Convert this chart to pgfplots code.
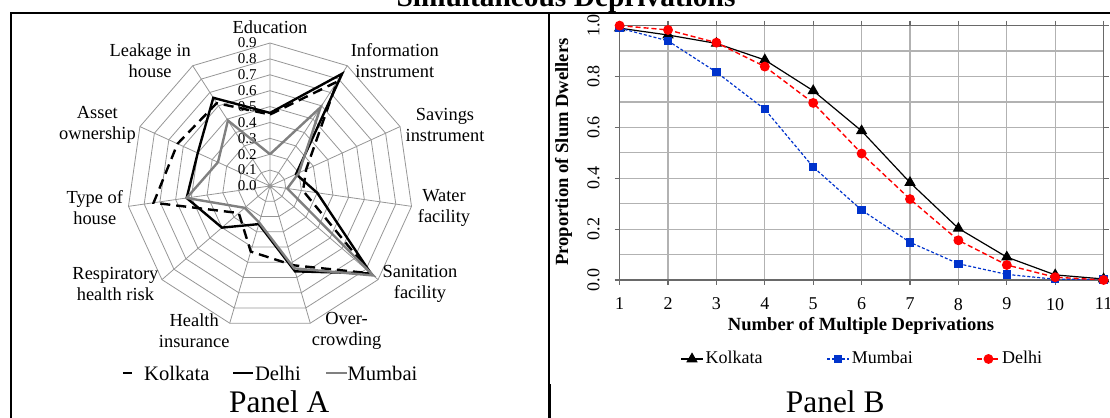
\documentclass[border=0pt]{standalone}
\usepackage{pgfplots}
\pgfplotsset{compat=1.18}
\usepgfplotslibrary{polar}
\usepackage{fontspec}
\setmainfont{Liberation Serif}
\definecolor{mblue}{RGB}{0,51,204}
\definecolor{gridgray}{RGB}{178,178,178}
\definecolor{framegray}{RGB}{105,105,105}
\definecolor{radgray}{RGB}{150,150,150}
\definecolor{mumgray}{RGB}{128,128,128}
\newcommand\fsA{\fontsize{9.2}{10.5}\selectfont}
\newcommand\fsTick{\fontsize{7.5}{8}\selectfont}
\newcommand\fsLegA{\fontsize{10.3}{12}\selectfont}
\newcommand\fsB{\fontsize{9}{10.5}\selectfont}
\newcommand\fsPanel{\fontsize{15.7}{18}\selectfont}
\begin{document}
\begin{tikzpicture}
% frame lines
\draw[black, line width=1pt] (5.5pt,0pt) -- (5.5pt,202.5pt) -- (555pt,202.5pt);
\draw[black, line width=0.6pt] (274.5pt,0pt) -- (274.5pt,202.5pt);
\draw[black, line width=1.2pt] (274.9pt,0pt) -- (274.9pt,17pt);
\node[anchor=base, font=\bfseries\fontsize{14.7}{16}\selectfont, inner sep=0pt] at (283pt,205.5pt) {Simultaneous Deprivations};

% ---------------- Panel A : radar ----------------
\begin{polaraxis}[
  at={(135pt,116pt)}, anchor=center,
  width=143pt, height=143pt, scale only axis,
  xmin=0, xmax=360, ymin=0, ymax=0.9,
  xtick={90,57.273,24.545,351.818,319.091,286.364,253.636,220.909,188.182,155.455,122.727},
  xticklabels={},
  ytick=\empty,
  xmajorgrids, ymajorgrids=false,
  major grid style={radgray, line width=0.4pt},
  axis line style={draw=none},
  major tick length=0pt,
  clip=false,
]
\pgfplotsinvokeforeach{0.1,0.2,0.3,0.4,0.5,0.6,0.7,0.8,0.9}{
\addplot[radgray, line width=0.4pt, no markers] coordinates {(90,#1) (57.273,#1) (24.545,#1) (351.818,#1) (319.091,#1) (286.364,#1) (253.636,#1) (220.909,#1) (188.182,#1) (155.455,#1) (122.727,#1) (90,#1)};
}
\pgfplotsinvokeforeach{0.0,0.1,0.2,0.3,0.4,0.5,0.6,0.7,0.8,0.9}{
\node[anchor=east, inner sep=0pt, font=\fsTick, xshift=-6.5pt] at (axis cs:90,#1) {#1};
}
% Kolkata
\addplot[black, line width=1.2pt, dash pattern=on 5pt off 3pt, no markers] coordinates {
(90,0.45) (57.273,0.78) (24.545,0.25) (351.818,0.21) (319.091,0.84) (286.364,0.52) (253.636,0.43) (220.909,0.26) (188.182,0.74) (155.455,0.64) (122.727,0.62) (90,0.45)};
% Delhi
\addplot[black, line width=1.2pt, no markers] coordinates {
(90,0.46) (57.273,0.84) (24.545,0.18) (351.818,0.30) (319.091,0.84) (286.364,0.56) (253.636,0.25) (220.909,0.40) (188.182,0.53) (155.455,0.50) (122.727,0.66) (90,0.46)};
% Mumbai
\addplot[mumgray, line width=1.2pt, no markers] coordinates {
(90,0.20) (57.273,0.59) (24.545,0.20) (351.818,0.11) (319.091,0.86) (286.364,0.54) (253.636,0.24) (220.909,0.21) (188.182,0.53) (155.455,0.36) (122.727,0.49) (90,0.20)};
\end{polaraxis}

% category labels
\begin{scope}[every node/.style={font=\fsA, align=center, inner sep=0pt}]
\node at (135pt,195.5pt) {Education};
\node at (197.4pt,178.75pt) {Information\\instrument};
\node at (222.5pt,146.5pt) {Savings\\instrument};
\node at (222pt,105.25pt) {Water\\facility};
\node at (210pt,67pt) {Sanitation\\facility};
\node at (173.3pt,43.75pt) {Over-\\crowding};
\node at (97.1pt,43.75pt) {Health\\insurance};
\node at (57.7pt,67pt) {Respiratory\\health risk};
\node at (47.4pt,105.25pt) {Type of\\house};
\node at (48.7pt,146.5pt) {Asset\\ownership};
\node at (75.1pt,178.75pt) {Leakage in\\house};
\end{scope}

% legend A
\draw[black, line width=1.2pt] (61.4pt,22.5pt) -- (65.8pt,22.5pt);
\node[anchor=west, inner sep=0pt, font=\fsLegA] at (71.9pt,22.5pt) {Kolkata};
\draw[black, line width=1.2pt] (116.5pt,22.5pt) -- (126.5pt,22.5pt);
\node[anchor=west, inner sep=0pt, font=\fsLegA] at (127.3pt,22.5pt) {Delhi};
\draw[mumgray, line width=1.2pt] (163pt,22.5pt) -- (173.3pt,22.5pt);
\node[anchor=west, inner sep=0pt, font=\fsLegA] at (173.6pt,22.5pt) {Mumbai};
\node[anchor=base, font=\fsPanel, inner sep=0pt] at (139.6pt,2.5pt) {Panel A};

% ---------------- Panel B ----------------
\begin{axis}[
  at={(309.8pt,69pt)}, anchor=south west,
  width=242pt, height=127.2pt, scale only axis,
  xmin=1, xmax=11, ymin=0, ymax=1,
  xtick={1,2,3,4,5,6,7,8,9,10,11},
  ytick={0,0.2,0.4,0.6,0.8,1.0},
  minor ytick={0.1,0.3,0.5,0.7,0.9},
  /pgf/number format/assume math mode=true,
  yticklabel style={/pgf/number format/.cd, fixed, fixed zerofill, precision=1, /tikz/.cd, rotate=90, anchor=south},
  ticklabel style={font=\fsB},
  xticklabel shift=3pt,
  yticklabel shift=4pt,
  grid=both,
  major grid style={gridgray, line width=0.6pt},
  minor grid style={gridgray, line width=0.6pt},
  axis line style={framegray, line width=0.8pt},
  tick align=outside, major tick length=2.5pt, minor tick length=0pt,
  tick style={framegray, line width=0.6pt},
  clip mode=individual,
  legend columns=3,
  legend style={at={(0.1248,-0.3105)}, anchor=west, draw=none, fill=none, font=\fsB,
    inner xsep=0pt, inner ysep=0pt, nodes={inner sep=1pt},
    /tikz/every even column/.append style={column sep=31pt}},
  legend image code/.code={\draw[mark repeat=2,mark phase=2] plot coordinates {(0pt,0pt) (5.5pt,0pt) (11pt,0pt)};},
]
\addplot[black, line width=0.6pt, mark=triangle*, mark size=2.7pt, mark options={solid}] coordinates {
(1,0.99) (2,0.963) (3,0.93) (4,0.865) (5,0.744) (6,0.586) (7,0.383) (8,0.203) (9,0.09) (10,0.02) (11,0.004)};
\addlegendentry{Kolkata}
\addplot[mblue, line width=0.6pt, dash pattern=on 1.5pt off 1pt, mark=square*, mark size=1.8pt, mark options={solid}] coordinates {
(1,0.99) (2,0.94) (3,0.817) (4,0.671) (5,0.444) (6,0.275) (7,0.148) (8,0.064) (9,0.022) (10,0.003) (11,0.002)};
\addlegendentry{Mumbai}
\addplot[red, line width=0.7pt, dash pattern=on 2.5pt off 1.5pt, mark=*, mark size=2.1pt, mark options={solid}] coordinates {
(1,1.0) (2,0.983) (3,0.933) (4,0.839) (5,0.696) (6,0.497) (7,0.318) (8,0.156) (9,0.059) (10,0.011) (11,0.0)};
\addlegendentry{Delhi}
\end{axis}
\node[anchor=base, font=\bfseries\fontsize{9.3}{11}\selectfont, inner sep=0pt] at (430.5pt,43.5pt) {Number of Multiple Deprivations};
\node[rotate=90, font=\bfseries\fontsize{9.3}{11}\selectfont, inner sep=0pt] at (281.8pt,133pt) {Proportion of Slum Dwellers};
\node[anchor=base, font=\fsPanel, inner sep=0pt] at (417.6pt,2.5pt) {Panel B};

\pgfresetboundingbox
\useasboundingbox (0,0) rectangle (555pt,209pt);
\end{tikzpicture}
\end{document}
